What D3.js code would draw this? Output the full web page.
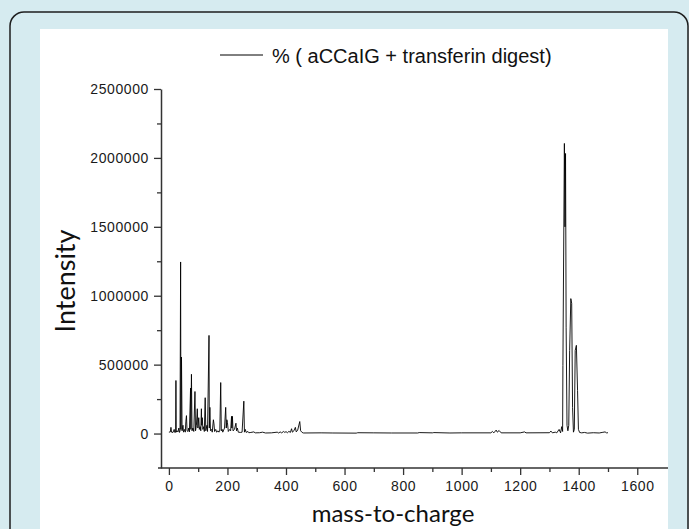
<!DOCTYPE html>
<html>
<head>
<meta charset="utf-8">
<script src="https://cdn.jsdelivr.net/npm/d3@7"></script>
<style>
  body { margin: 0; background: #d6ebf0; }
  svg { display: block; }
</style>
</head>
<body>
<div id="chart"></div>
<script>
// spectrum: mass-to-charge and intensity
const mz = [0, 5, 7, 9, 14, 18, 20, 23, 24, 25, 28, 31, 34, 36, 38, 40, 41, 43, 45, 48,
  50, 54, 56, 58, 60, 62, 65, 68, 70, 74, 75, 77, 79, 82, 85, 89, 91, 94, 97, 99,
  102, 104, 107, 109, 111, 112, 114, 116, 119, 121, 124, 126, 130, 132, 137, 138, 140, 142, 146, 148,
  152, 154, 156, 160, 163, 168, 171, 174, 177, 179, 182, 184, 190, 194, 196, 198, 200, 203, 208, 211,
  214, 215, 217, 219, 224, 229, 231, 234, 237, 245, 250, 256, 258, 261, 264, 270, 273, 280, 290, 295,
  310, 320, 330, 350, 370, 375, 380, 385, 392, 396, 400, 405, 410, 415, 419, 422, 427, 432, 435, 440,
  447, 450, 455, 460, 520, 560, 640, 645, 700, 760, 850, 855, 900, 905, 960, 1000, 1100, 1105, 1110, 1118,
  1122, 1128, 1135, 1200, 1215, 1220, 1300, 1305, 1310, 1320, 1325, 1333, 1338, 1342, 1345, 1346, 1351, 1353, 1355, 1357, 1360,
  1363, 1366, 1369, 1373, 1376, 1379, 1382, 1385, 1388, 1392, 1396, 1399, 1403, 1410, 1420, 1430, 1450, 1470, 1480, 1490,
  1495, 1500];
const intensity = [10000, 12000, 45000, 10000, 8000, 30000, 8000, 10000, 385000, 10000, 20000, 12000, 40000, 8000, 20000, 1245000, 30000, 555000, 20000, 60000,
  10000, 30000, 10000, 90000, 130000, 20000, 15000, 40000, 12000, 330000, 30000, 430000, 20000, 40000, 15000, 305000, 20000, 60000, 180000, 40000,
  115000, 30000, 50000, 20000, 180000, 60000, 115000, 30000, 50000, 15000, 260000, 20000, 60000, 15000, 712000, 40000, 190000, 20000, 30000, 10000,
  100000, 70000, 15000, 30000, 10000, 20000, 10000, 25000, 370000, 20000, 30000, 10000, 40000, 190000, 40000, 100000, 80000, 15000, 30000, 20000,
  125000, 40000, 125000, 20000, 30000, 75000, 20000, 40000, 10000, 8000, 10000, 235000, 10000, 30000, 8000, 15000, 6000, 8000, 12000, 5000,
  6000, 10000, 4000, 5000, 10000, 4000, 12000, 5000, 15000, 8000, 14000, 6000, 16000, 8000, 35000, 10000, 20000, 45000, 12000, 25000,
  87000, 20000, 8000, 4000, 5000, 4000, 3000, 6000, 5000, 4000, 4000, 7000, 5000, 7000, 4000, 5000, 5000, 15000, 5000, 25000,
  10000, 22000, 5000, 5000, 12000, 5000, 6000, 18000, 5000, 10000, 5000, 30000, 5000, 50000, 15000, 494000, 2105000, 1500000, 2032000, 772000, 60000,
  20000, 60000, 603000, 979000, 945000, 190000, 10000, 30000, 603000, 640000, 313000, 30000, 8000, 5000, 8000, 3000, 6000, 4000, 8000, 12000,
  5000, 6000];

const yMajor = [0, 500000, 1000000, 1500000, 2000000, 2500000];
const yMinor = [250000, 750000, 1250000, 1750000, 2250000];
const xMajor = [0, 200, 400, 600, 800, 1000, 1200, 1400, 1600];
const xMinor = [100, 300, 500, 700, 900, 1100, 1300, 1500];
const seriesName = "% ( aCCaIG + transferin digest)";

(function () {
  const W = 689, H = 529;
  const left = 161, right = 668, top = 89, bottom = 468;

  const svg = d3.select("#chart")
    .append("svg")
    .attr("width", W)
    .attr("height", H);

  // card frame + white panel
  svg.append("rect")
    .attr("x", 10).attr("y", 12)
    .attr("width", 678).attr("height", 560)
    .attr("rx", 14)
    .attr("fill", "#d6ebf0")
    .attr("stroke", "#1e1e1e")
    .attr("stroke-width", 1.5);
  svg.append("rect")
    .attr("x", 40).attr("y", 29)
    .attr("width", 628).attr("height", 520)
    .attr("fill", "#ffffff");

  const x = d3.scaleLinear().domain([-27, 1705]).range([left, right]);
  const y = d3.scaleLinear().domain([-250000, 2500000]).range([bottom, top]);

  const tickFont = "'Liberation Sans', Arial, sans-serif";

  // Y axis
  const yAxis = svg.append("g")
    .attr("transform", `translate(${left},0)`)
    .call(d3.axisLeft(y).tickValues(yMajor).tickFormat(d3.format("d"))
      .tickSize(7).tickSizeOuter(0).tickPadding(5));
  yAxis.append("g")
    .call(d3.axisLeft(y).tickValues(yMinor).tickFormat("").tickSize(4).tickSizeOuter(0))
    .select(".domain").remove();

  // X axis
  const xAxis = svg.append("g")
    .attr("transform", `translate(0,${bottom})`)
    .call(d3.axisBottom(x).tickValues(xMajor).tickFormat(d3.format("d"))
      .tickSize(7).tickSizeOuter(0).tickPadding(6));
  xAxis.append("g")
    .call(d3.axisBottom(x).tickValues(xMinor).tickFormat("").tickSize(4).tickSizeOuter(0))
    .select(".domain").remove();
  xAxis.select(".domain").attr("d", `M${left - 3},0H${right}`);

  svg.selectAll(".tick line").attr("stroke", "#333").attr("stroke-width", 1.3);
  svg.selectAll(".domain").attr("stroke", "#333").attr("stroke-width", 1.5);
  svg.selectAll(".tick text")
    .attr("fill", "#1a1a1a")
    .style("font-family", tickFont)
    .style("font-size", "14px")
    .style("letter-spacing", "0.6px");

  // spectrum line
  const pts = mz.map((m, i) => [m, intensity[i]]);
  svg.append("path")
    .datum(pts)
    .attr("fill", "none")
    .attr("stroke", "#000")
    .attr("stroke-width", 0.9)
    .attr("d", d3.line().x(d => x(d[0])).y(d => y(d[1])));

  // legend
  svg.append("line")
    .attr("x1", 220).attr("x2", 263)
    .attr("y1", 55).attr("y2", 55)
    .attr("stroke", "#000").attr("stroke-width", 1);
  svg.append("text")
    .attr("x", 272).attr("y", 63)
    .style("font-family", tickFont)
    .style("font-size", "20px")
    .attr("fill", "#111")
    .text(seriesName);

  // axis titles
  svg.append("text")
    .attr("transform", "translate(75,281) rotate(-90)")
    .attr("text-anchor", "middle")
    .style("font-family", "Lato, 'Open Sans', sans-serif")
    .style("font-size", "27px")
    .attr("fill", "#111")
    .text("Intensity");
  svg.append("text")
    .attr("x", 393).attr("y", 522)
    .attr("text-anchor", "middle")
    .style("font-family", "Lato, 'Open Sans', sans-serif")
    .style("font-size", "24px")
    .attr("fill", "#111")
    .text("mass-to-charge");
}());
</script>
</body>
</html>
